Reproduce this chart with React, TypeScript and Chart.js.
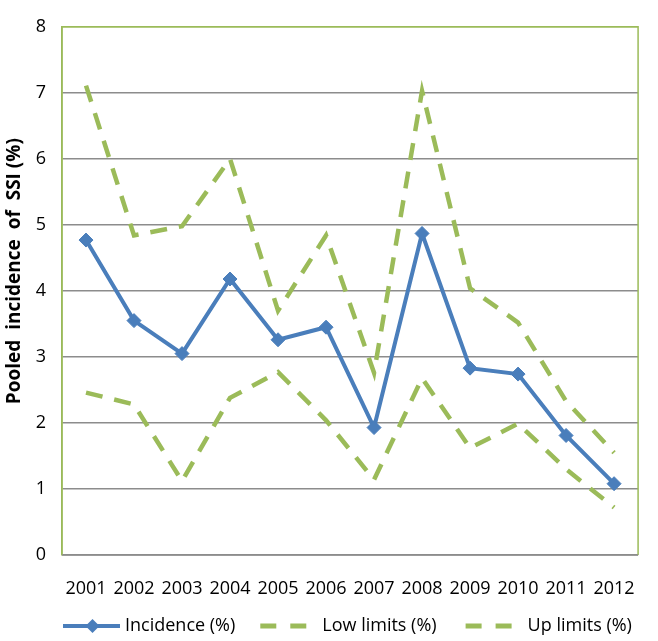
import React, { useEffect, useRef } from "react";
import { Chart, registerables } from "chart.js";

Chart.register(...registerables);

const years = ["2001", "2002", "2003", "2004", "2005", "2006", "2007", "2008", "2009", "2010", "2011", "2012"];
const incidence = [4.77, 3.55, 3.05, 4.18, 3.26, 3.45, 1.93, 4.87, 2.83, 2.74, 1.81, 1.08];
const lowLimits = [2.46, 2.28, 1.12, 2.38, 2.77, 2.04, 1.14, 2.68, 1.62, 1.99, 1.3, 0.72];
const upLimits = [7.11, 4.84, 4.98, 6.0, 3.7, 4.84, 2.76, 7.03, 4.04, 3.52, 2.33, 1.55];
const yTicks = [0, 1, 2, 3, 4, 5, 6, 7, 8];

const BLUE = "#4A7EBB";
const GREEN = "#9BBB59";
const GRID = "#8C8C8C";
const FONT = "'Open Sans', 'Noto Sans', sans-serif";

const frame = {
  id: "frame",
  beforeDatasetsDraw(chart: any) {
    const { ctx, chartArea } = chart;
    ctx.save();
    ctx.strokeStyle = GREEN;
    ctx.lineWidth = 1.5;
    ctx.beginPath();
    ctx.moveTo(chartArea.left, chartArea.bottom);
    ctx.lineTo(chartArea.left, chartArea.top);
    ctx.lineTo(chartArea.right, chartArea.top);
    ctx.lineTo(chartArea.right, chartArea.bottom);
    ctx.stroke();
    ctx.strokeStyle = GRID;
    ctx.beginPath();
    ctx.moveTo(chartArea.left, chartArea.bottom);
    ctx.lineTo(chartArea.right, chartArea.bottom);
    ctx.stroke();
    ctx.restore();
  },
};

const legendPlugin = {
  id: "customLegend",
  afterDraw(chart: any) {
    const { ctx, chartArea } = chart;
    const y = 626;
    const sample = 57;
    const textGap = 5;
    const itemGaps = [25, 29];
    ctx.save();
    ctx.font = `18px ${FONT}`;
    ctx.textBaseline = "middle";
    ctx.fillStyle = "#000";
    let x = chartArea.left + 1;
    chart.data.datasets.forEach((ds: any, i: number) => {
      ctx.save();
      ctx.strokeStyle = ds.borderColor;
      ctx.lineWidth = ds.pointRadius > 0 ? ds.borderWidth : 5;
      ctx.setLineDash(ds.borderDash && ds.borderDash.length ? [16, 14] : []);
      ctx.beginPath();
      ctx.moveTo(x, y);
      ctx.lineTo(x + sample, y);
      ctx.stroke();
      if (ds.pointRadius > 0) {
        const r = ds.pointRadius;
        const cx = x + sample / 2 + 1;
        ctx.setLineDash([]);
        ctx.fillStyle = ds.pointBackgroundColor;
        ctx.beginPath();
        ctx.moveTo(cx, y - r);
        ctx.lineTo(cx + r, y);
        ctx.lineTo(cx, y + r);
        ctx.lineTo(cx - r, y);
        ctx.closePath();
        ctx.fill();
      }
      ctx.restore();
      const tx = x + sample + textGap;
      ctx.fillText(ds.label, tx, y);
      x = tx + ctx.measureText(ds.label).width + (itemGaps[i] || 25);
    });
    ctx.restore();
  },
};

export default function App() {
  const ref = useRef<HTMLCanvasElement>(null);
  useEffect(() => {
    if (!ref.current) return;
    const chart = new Chart(ref.current, {
      type: "line",
      data: {
        labels: years,
        datasets: [
          {
            label: "Incidence (%)",
            data: incidence,
            borderColor: BLUE,
            backgroundColor: BLUE,
            borderWidth: 4,
            pointStyle: "rectRot",
            pointRadius: 7,
            pointBackgroundColor: BLUE,
            pointBorderColor: BLUE,
            pointBorderWidth: 1,
            tension: 0,
            order: 0,
          },
          {
            label: "Low limits (%)",
            data: lowLimits,
            borderColor: GREEN,
            backgroundColor: GREEN,
            borderWidth: 4.5,
            borderDash: [17, 12],
            pointRadius: 0,
            tension: 0,
            order: 1,
          },
          {
            label: "Up limits (%)",
            data: upLimits,
            borderColor: GREEN,
            backgroundColor: GREEN,
            borderWidth: 4.5,
            borderDash: [17, 12],
            pointRadius: 0,
            tension: 0,
            order: 2,
          },
        ],
      },
      options: {
        animation: false,
        responsive: true,
        maintainAspectRatio: false,
        layout: { padding: { left: 0, right: 6, top: 12, bottom: 0 } },
        plugins: {
          legend: { display: false },
          tooltip: { enabled: false },
        },
        scales: {
          x: {
            offset: true,
            grid: { display: false, drawTicks: false },
            border: { display: false },
            ticks: { color: "#000", font: { family: FONT, size: 18 }, padding: 23, maxRotation: 0 },
            afterFit: (s: any) => { s.height = 86; },
          },
          y: {
            min: 0,
            max: 8,
            afterBuildTicks: (s: any) => { s.ticks = yTicks.map((v) => ({ value: v })); },
            grid: {
              color: (c: any) => (c.tick && c.tick.value === 8 ? GREEN : GRID),
              lineWidth: 1.5,
              drawTicks: false,
            },
            border: { display: true, color: GREEN, width: 1.5 },
            ticks: { color: "#000", font: { family: FONT, size: 18 }, padding: 16 },
            title: {
              display: true,
              text: "        Pooled  incidence  of  SSI (%)",
              color: "#000",
              font: { family: FONT, size: 19, weight: "bold" },
              padding: { top: 3, bottom: 0 },
            },
            afterFit: (s: any) => { s.width = 62; },
          },
        },
      },
      plugins: [frame, legendPlugin],
    });
    return () => chart.destroy();
  }, []);
  return (
    <div style={{ position: "fixed", left: 0, top: 0, width: 658, height: 641, background: "#fff" }}>
      <canvas ref={ref} />
    </div>
  );
}
